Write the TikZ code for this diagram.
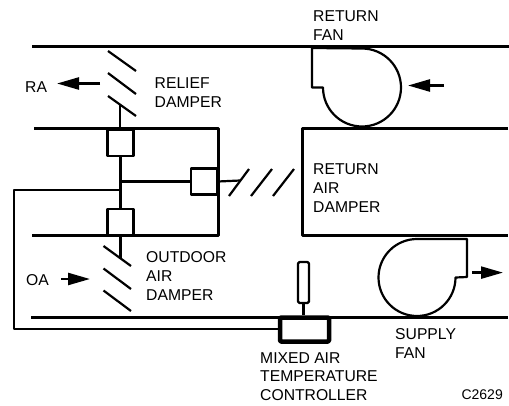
\documentclass[tikz,border=0pt]{standalone}
\usepackage{fontspec}
\setmainfont{Liberation Sans}
\usetikzlibrary{arrows.meta,positioning}

\begin{document}
\begin{tikzpicture}[x=1pt,y=-1pt,node distance=51pt,line join=round,
  duct/.style={line width=3pt},wire/.style={line width=2.2pt},
  act/.style={draw,line width=2.2pt,minimum size=26pt,inner sep=0pt},
  lbl/.style={align=left,anchor=base west,inner sep=0pt,font=\fontsize{15.7}{18.7}\selectfont},
  flow/.style={line width=2.4pt,-{Triangle[length=22pt,width=12pt]}}]
\useasboundingbox (0,0) rectangle (509,405);
\draw[duct] (32,46.5)--(509,46.5);
\draw[duct] (34,128)--(218,128)--(218,235)--(32,235);
\draw[duct] (508,128)--(302.5,128)--(302.5,235)--(508,235);
\draw[duct] (31,317)--(508,317);
\node[act] (reliefact) at (120.5,143) {};
\node[act,below=of reliefact] (outdooract) {};
\node[act] (returnact) at (204,181.5) {};
\node[draw,line width=2.2pt,rounded corners=1.5pt,minimum width=11pt,minimum height=41pt,inner sep=0pt] (sensor) at (303.5,282.5) {};
\node[draw,line width=4.5pt,rounded corners=1pt,minimum width=49pt,minimum height=24pt,inner sep=0pt] (controller) at (304.5,329.5) {};
\coordinate (reliefblade) at (120,105);\coordinate (outdoorblade) at (120.5,259);
\coordinate (returnblade) at (240,180.5);\coordinate (junction) at (reliefact.south |- returnact.west);
\coordinate (wirejoin) at (121,190);\coordinate (wirecorner) at (14,190);\coordinate (wirefoot) at (14,329);
\draw[wire] (reliefblade)--(reliefblade |- reliefact.north);
\draw[wire] (reliefact.south)--(outdooract.north);
\draw[wire] (outdooract.south)--(outdoorblade);
\draw[wire] (junction)--(returnact.west);
\draw[wire] (returnact.east)--(returnblade);
\draw[wire] (wirejoin)--(wirecorner)--(wirefoot)--(wirefoot -| controller.west);
\draw[wire] (sensor.south)--(sensor.south |- controller.north);
\draw[wire] (108,51)--(136,71);\draw[wire] (108,73)--(136,94);\draw[wire] (108,96)--(136,116);
\draw[wire] (103.5,246)--(131,266);\draw[wire] (103.5,268.5)--(131,289);\draw[wire] (103.5,290.5)--(131,311);
\draw[wire] (229,196)--(249,169);\draw[wire] (251,196)--(272,169);\draw[wire] (273,196)--(294,169);
\draw[wire] (312,48)--(312,87.5)--(323,87.5) arc[start angle=180,end angle=-90,radius=39]--cycle;
\draw[wire] (417,239) arc[start angle=-90,end angle=-360,radius=38.5]--(467,277)--(467,239)--cycle;
\coordinate (rastart) at (100,83.5);\coordinate (raend) at (57,83.5);
\coordinate (fanstart) at (444,85.5);\coordinate (fanend) at (408,85.5);
\coordinate (oastart) at (61,279);\coordinate (oaend) at (90,279);
\coordinate (supplystart) at (472,272.6);\coordinate (supplyend) at (503,272.6);
\draw[flow] (rastart)--(raend);\draw[flow] (fanstart)--(fanend);
\draw[flow] (oastart)--(oaend);\draw[flow] (supplystart)--(supplyend);
\node[lbl] (ralabel) at (25,92) {RA};
\node[lbl] (oalabel) at (26,285) {OA};
\node[lbl] (relieflabel) at (154.5,107) {RELIEF\\DAMPER};
\node[lbl] (fanlabel) at (313,40.5) {RETURN\\FAN};
\node[lbl] (returnlabel) at (313,212) {RETURN\\AIR\\DAMPER};
\node[lbl] (outdoorlabel) at (146,300) {OUTDOOR\\AIR\\DAMPER};
\node[lbl] (supplylabel) at (395,358) {SUPPLY\\FAN};
\node[lbl] (mixedlabel) at (260,400.5) {MIXED AIR\\TEMPERATURE\\CONTROLLER};
\node[lbl,anchor=base east,font=\fontsize{14}{16}\selectfont] (drawingno) at (503,399) {C2629};
\end{tikzpicture}
\end{document}
